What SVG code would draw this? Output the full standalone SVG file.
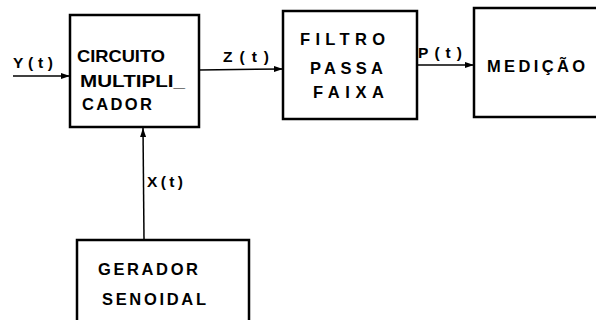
<svg xmlns="http://www.w3.org/2000/svg" width="596" height="320" viewBox="0 0 596 320">
<style>
.box{fill:none;stroke:#000;stroke-width:2.5}
.ln{fill:none;stroke:#000;stroke-width:1.5}
text{font-family:"Liberation Sans",Arial,sans-serif;font-weight:bold;font-size:16.5px;fill:#000}
.lb{font-size:15.5px}
</style>
<defs>
<marker id="ah" markerWidth="10" markerHeight="8" refX="9" refY="4" orient="auto" markerUnits="userSpaceOnUse">
<path d="M0,1 L9,4 L0,7 Z" fill="#000"/>
</marker>
</defs>
<rect width="596" height="320" fill="#fff"/>
<g id="connectors">
<line class="ln" x1="13" y1="76" x2="70" y2="76" marker-end="url(#ah)"/>
<line class="ln" x1="199" y1="70" x2="283" y2="69" marker-end="url(#ah)"/>
<line class="ln" x1="418" y1="65" x2="474" y2="65" marker-end="url(#ah)"/>
<line class="ln" x1="144" y1="240" x2="143" y2="128" marker-end="url(#ah)"/>
<text class="lb" x="13" y="68" textLength="40" lengthAdjust="spacing">Y(t)</text>
<text class="lb" x="223" y="62" textLength="46" lengthAdjust="spacing">Z(t)</text>
<text class="lb" x="418" y="58" textLength="44" lengthAdjust="spacing">P(t)</text>
<text class="lb" x="147" y="187" textLength="36" lengthAdjust="spacing">X(t)</text>
</g>
<g id="circuito">
<rect class="box" x="70" y="15" width="129" height="112"/>
<text x="77" y="62" textLength="88" lengthAdjust="spacingAndGlyphs">CIRCUITO</text>
<text x="80" y="87" textLength="105" lengthAdjust="spacingAndGlyphs">MULTIPLI_</text>
<text x="82" y="110" textLength="70" lengthAdjust="spacing">CADOR</text>
</g>
<g id="filtro">
<rect class="box" x="283" y="11" width="134" height="108"/>
<text x="300" y="45" textLength="85" lengthAdjust="spacing">FILTRO</text>
<text x="310" y="74" textLength="73" lengthAdjust="spacing">PASSA</text>
<text x="313" y="98" textLength="71" lengthAdjust="spacing">FAIXA</text>
</g>
<g id="medicao">
<rect class="box" x="474" y="8" width="130" height="109"/>
<text x="487" y="72" textLength="98" lengthAdjust="spacing">MEDIÇÃO</text>
</g>
<g id="gerador">
<rect class="box" x="77" y="240" width="172" height="95"/>
<text x="98" y="275" textLength="100" lengthAdjust="spacing">GERADOR</text>
<text x="102" y="305" textLength="104" lengthAdjust="spacing">SENOIDAL</text>
</g>
</svg>
